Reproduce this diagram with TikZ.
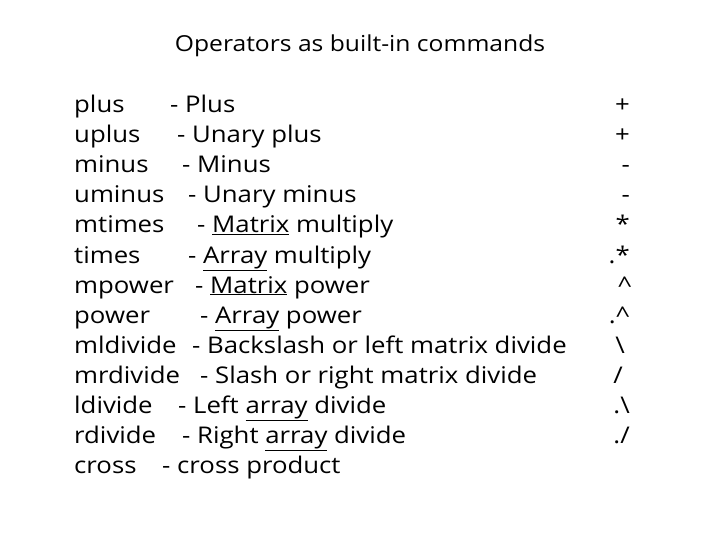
\documentclass[tikz,border=0pt]{standalone}
\usepackage{fontspec}
\setmainfont[FakeStretch=1.12]{Open Sans}
\usetikzlibrary{calc}

\begin{document}
\begin{tikzpicture}[x=1pt,y=-1pt]
  \useasboundingbox (0,0) rectangle (720,540);
  \node[anchor=base,font=\fontsize{22}{26}\selectfont] (title) at (360,52) {Operators as built-in commands};
  \foreach \i/\cmd/\dx/\desc in {
      0/plus/170/Plus,
      1/uplus/177/Unary plus,
      2/minus/182/Minus,
      3/uminus/188/Unary minus,
      4/mtimes/197/\underline{Matrix} multiply,
      5/times/188/\underline{Array} multiply,
      6/mpower/195/\underline{Matrix} power,
      7/power/200/\underline{Array} power,
      8/mldivide/192/Backslash or left matrix divide,
      9/mrdivide/200/Slash or right matrix divide,
      10/ldivide/178/Left \underline{array} divide,
      11/rdivide/182/Right \underline{array} divide,
      12/cross/162/cross product}
  {
    \node[anchor=base west,inner sep=0,font=\fontsize{23}{27}\selectfont] (cmd\i) at (74,113+30*\i) {\cmd};
    \node[anchor=base west,inner sep=0,font=\fontsize{23}{27}\selectfont] (desc\i) at (\dx,113+30*\i) {- \desc};
  }
  \foreach \i/\sx/\sym in {0/630/+,1/630/+,2/630/-,3/630/-,4/630/*,5/630/.*,6/632/\^{},7/630/.\^{},
      8/625/\textbackslash,9/623/{/},10/630/.\textbackslash,11/630/{./}}
    \node[anchor=base east,inner sep=0,font=\fontsize{23}{27}\selectfont] (sym\i) at (\sx,113+30*\i) {\sym};
\end{tikzpicture}
\end{document}
